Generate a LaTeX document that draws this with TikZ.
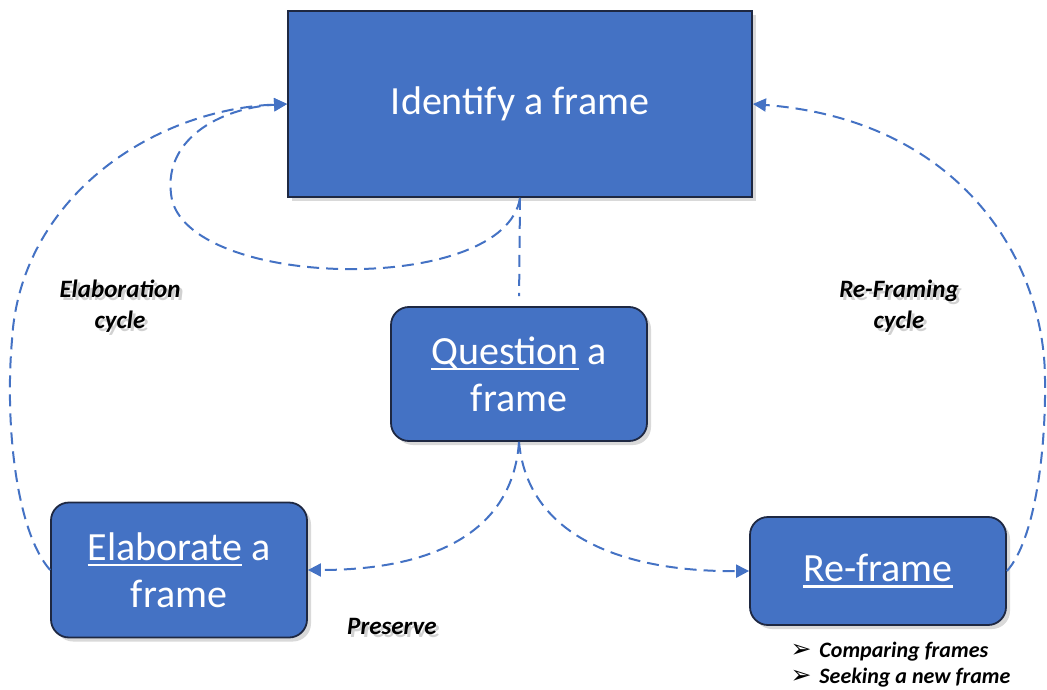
\documentclass[tikz,border=0pt]{standalone}
\usepackage{fontspec}
\setmainfont{Carlito}
\newfontfamily\pointerfont{DejaVu Sans}
\usetikzlibrary{arrows.meta,shadows}
\definecolor{frameblue}{RGB}{68,114,196}
\definecolor{frameedge}{RGB}{30,40,66}
% underline with a thicker rule, as in the slides
\newcommand{\frameul}[1]{\setbox0\hbox{#1}\rlap{\rule[-6pt]{\wd0}{2.4pt}}\box0\relax}
% bold italic label with a soft grey shadow behind it
\newcommand{\castlabel}[3]{%
  \node[cyclelabel, text=black, opacity=0.18] (#1-shade) at ([xshift=3pt,yshift=-3pt]#2) {#3};
  \node[cyclelabel] (#1) at (#2) {#3};}
\newcommand{\pointer}{{\pointerfont\fontsize{25}{25}\selectfont\char"27A2}}

\tikzset{
  framebox/.style={fill=frameblue, draw=frameedge, line width=1.8pt, text=white,
    align=center, inner sep=0pt, font=\fontsize{40}{47}\selectfont,
    drop shadow={opacity=0.3, shadow xshift=4pt, shadow yshift=-4pt}},
  roundbox/.style={framebox, rounded corners=18pt},
  cycleline/.style={frameblue, line width=2pt, dash pattern=on 12pt off 7pt},
  cyclearrow/.style={cycleline, -{Triangle[length=13pt,width=13pt]}},
  cyclelabel/.style={font=\fontsize{25}{31}\selectfont\bfseries\itshape, align=center}
}

\begin{document}
\begin{tikzpicture}[x=1pt, y=-1pt]
  \useasboundingbox (0,0) rectangle (1047,690);

  % the four stages
  \node[framebox, minimum width=464pt, minimum height=186pt] (identify) at (520,104) {Identify a frame};
  \node[roundbox, minimum width=256pt, minimum height=134pt] (question) at (519,374) {\frameul{Question} a\\frame};
  \node[roundbox, minimum width=256pt, minimum height=135pt] (elaborate) at (179,570) {\frameul{Elaborate} a\\frame};
  \node[roundbox, minimum width=256pt, minimum height=108pt] (reframe) at (878,571) {\frameul{Re-frame}};

  % links between stages
  \draw[cycleline, shorten >=10pt] (identify.south) -- (question.north);
  \draw[cyclearrow] (identify.south) .. controls (505,295) and (195,290) .. (172,200)
    .. controls (160,140) and (220,108) .. (identify.west);
  \draw[cyclearrow] (elaborate.west) .. controls (15,530) and (5,420) .. (12,340)
    .. controls (20,200) and (150,110) .. (identify.west);
  \draw[cyclearrow] (reframe.east) .. controls (1035,540) and (1046,450) .. (1045,380)
    .. controls (1045,260) and (960,120) .. (identify.east);
  \draw[cyclearrow] (question.south) .. controls (512,540) and (420,570) .. (elaborate.east);
  \draw[cyclearrow] (question.south) .. controls (528,540) and (630,572) .. (reframe.west);

  % labels
  \castlabel{elabcycle}{120,306}{Elaboration\\cycle}
  \castlabel{reframecycle}{899,306}{Re-Framing\\cycle}
  \castlabel{preserve}{392,626}{Preserve}
  \node[font=\fontsize{22}{26}\selectfont\bfseries\itshape, align=left, anchor=west] (options) at (787,665)
    {\pointer\hspace{8pt}Comparing frames\\ \pointer\hspace{8pt}Seeking a new frame};
\end{tikzpicture}
\end{document}
